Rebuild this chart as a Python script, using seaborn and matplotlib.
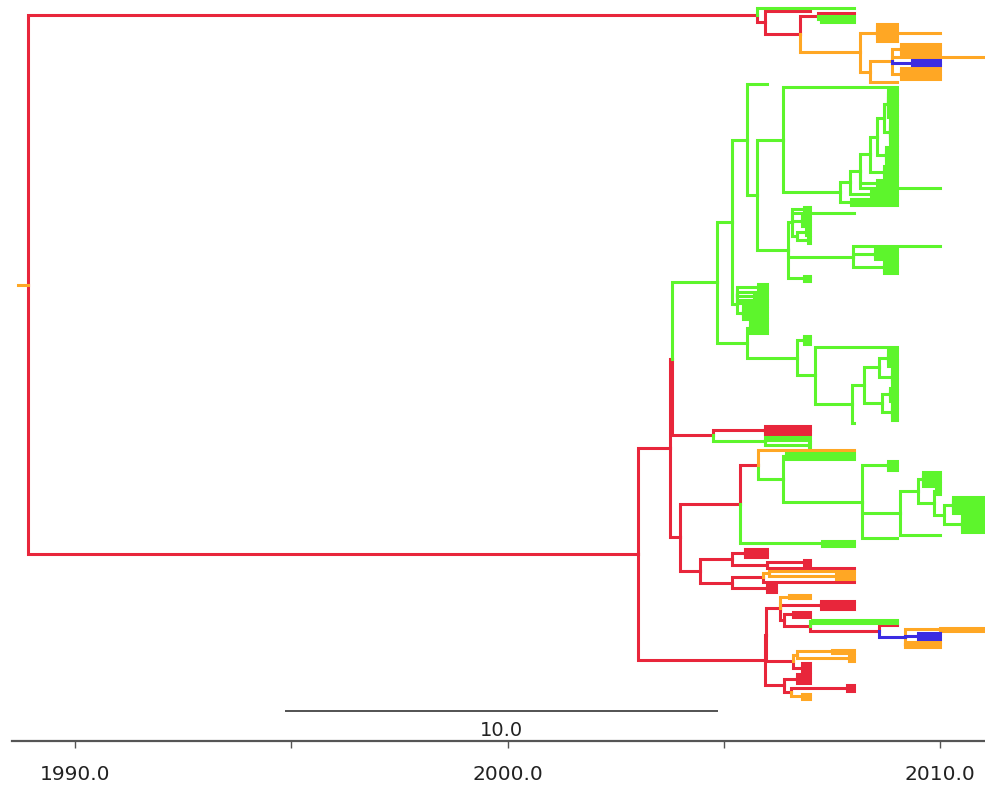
import re
import matplotlib
matplotlib.use("Agg")
import matplotlib.pyplot as plt
from matplotlib import font_manager
import pandas as pd
import seaborn as sns

# ---------------------------------------------------------------------------
# Time-scaled tree.  Node syntax:  [colour][count*]( children )@year
# colour letters: r g o b (inherited from the parent when omitted)
# "n*@year" stands for n sister tips sampled in that year.
# ---------------------------------------------------------------------------
BRANCH_COLOURS = {"r": "#E8263B", "g": "#5DF52C", "o": "#FFA724", "b": "#3B2CE2"}
COLOUR_ORDER = ["r", "g", "o", "b"]

TOP_CLADE = ("r(g@2008.0,r(@2007.0,(r(@2008.0,g(3*@2008.0)@2007.25)@2007.18,"
             "o((3*@2009.0,@2010.0,3*@2009.0)@2008.55,"
             "(((5*@2010.0)@2009.1,@2011.0,b(3*@2010.0)@2009.35,(5*@2010.0)@2009.1)@2008.9,"
             "@2009.0)@2008.38)@2008.15)@2006.76)@2005.95)@2005.77")

# green lineage -------------------------------------------------------------
LADDER_5 = "((11*@2009.0)@2008.8,(10*@2009.0)@2008.85)@2008.7"
LADDER_4 = f"({LADDER_5},(7*@2009.0)@2008.75)@2008.55"
LADDER_3 = f"({LADDER_4},(5*@2009.0)@2008.7)@2008.38"
LADDER_2 = f"({LADDER_3},(3*@2009.0)@2008.55,@2010.0)@2008.15"
LADDER_1 = f"({LADDER_2},(3*@2009.0)@2008.4)@2007.92"
LADDER_0 = f"({LADDER_1},(3*@2009.0)@2007.95)@2007.69"
SUB_A = f"(@2009.0,{LADDER_0})@2006.37"

SUB_B1 = ("((2*@2007.0)@2006.85,@2008.0,(5*@2007.0)@2006.8,"
          "((3*@2007.0)@2006.9,(3*@2007.0)@2006.95)@2006.7)@2006.58")
SUB_B2 = "(@2010.0,(5*@2009.0)@2008.5,(5*@2009.0)@2008.7)@2007.99"
SUB_B3 = "(3*@2007.0)@2006.85"
SUB_B = f"({SUB_B1},{SUB_B2},{SUB_B3})@2006.49"

SHORT_1 = "((3*@2006.0)@2005.8,@2006.0,(2*@2006.0)@2005.7,@2006.0,@2006.0)@2005.3"
SHORT_2A = "(6*@2006.0)@2005.45"
SHORT_2B = "(5*@2006.0)@2005.6"

SUB_C4 = "((7*@2009.0)@2008.8,(7*@2009.0)@2008.9)@2008.6"
SUB_C5 = "((6*@2009.0)@2008.85,(7*@2009.0)@2008.9)@2008.65"
SUB_C = (f"((4*@2007.0)@2006.85,(@2009.0,(({SUB_C4},{SUB_C5})@2008.25,"
         f"@2008.0)@2007.97)@2007.11)@2006.69")

GREEN_UPPER = (f"((@2006.0,({SUB_A},{SUB_B})@2005.77)@2005.54,"
               f"({SHORT_1},{SHORT_2A})@2005.3)@2005.2")
GREEN_LOWER = f"({SHORT_2B},{SUB_C})@2005.54"
GREEN_CLADE = f"g({GREEN_UPPER},{GREEN_LOWER})@2004.84"

# red lineages --------------------------------------------------------------
SMALL_RED = "r(r(4*@2007.0)@2005.95,g(2*@2007.0,(3*@2007.0)@2006.97)@2005.95)@2004.75"

MIXED_E4 = ("(((6*@2010.0)@2009.6,((3*@2010.0)@2009.9,"
            "((7*@2011.0)@2010.3,(7*@2011.0)@2010.5)@2010.1)@2009.85)@2009.5,"
            "@2010.0)@2009.08")
MIXED_E3 = f"((4*@2009.0)@2008.8,{MIXED_E4},@2009.0)@2008.2"
MIXED_E1 = f"r(o@2008.0,g((3*@2008.0)@2006.45,{MIXED_E3})@2006.37)@2005.8"
MIXED_E = f"r({MIXED_E1},g(3*@2008.0)@2007.27)@2005.38"

RED_F = ("r(r((4*@2006.0)@2005.5,((3*@2007.0)@2006.85,@2008.0)@2006.0)@2005.2,"
         "r(r(o(@2008.0,(3*@2008.0)@2007.6)@2006.05,r@2008.0)@2005.9,"
         "(4*@2006.2)@2006.0)@2005.2)@2004.45")

RED_H1D = ("r(r@2009.0,b(o(2*@2011.0)@2010.0,b(3*@2010.0)@2009.5,"
           "o(3*@2010.0)@2009.2)@2009.2)@2008.6")
RED_H1 = (f"r(o(2*@2007.0)@2006.5,r(4*@2008.0)@2007.25,r((3*@2007.0)@2006.6,"
          f"r(g(2*@2009.0)@2007.05,{RED_H1D})@2007.0)@2006.4)@2006.3")
RED_H2 = "r(o((2*@2008.0)@2007.5,(3*@2008.0)@2007.9)@2006.7,r(4*@2007.0)@2006.8)@2006.6"
RED_H3 = ("r(r(4*@2007.0)@2006.7,r(r(3*@2008.0)@2007.85,"
          "o(3*@2007.0)@2006.8)@2006.55)@2006.4")
RED_H = f"r(r({RED_H1},{RED_H2})@2005.97,{RED_H3})@2005.95"

NODE_C = f"r({GREEN_CLADE},{SMALL_RED})@2003.8"
NODE_D = f"r({MIXED_E},{RED_F})@2003.99"
NODE_B = f"r({NODE_C},{NODE_D})@2003.75"
NODE_A = f"r({NODE_B},{RED_H})@2003.02"
TREE = f"o({TOP_CLADE},{NODE_A})@1988.91"
ROOT_ORIGIN = 1988.68

AXIS_TICKS = [1990.0, 2000.0, 2010.0]
AXIS_MINOR = [1995.0, 2005.0]
SCALE_BAR = (1994.86, 10.0)


def parse(text):
    pos = 0

    def node(inherited):
        nonlocal pos
        colour = inherited
        if text[pos] in "rgob":
            colour = text[pos]
            pos += 1
        count = 1
        m = re.match(r"(\d+)\*", text[pos:])
        if m:
            count = int(m.group(1))
            pos += m.end()
        children = []
        if text[pos] == "(":
            pos += 1
            while True:
                children.extend(node(colour))
                if text[pos] == ",":
                    pos += 1
                    continue
                pos += 1
                break
        pos += 1  # '@'
        m = re.match(r"[\d.]+", text[pos:])
        t = float(m.group())
        pos += m.end()
        return [{"t": t, "c": colour, "ch": children if i == 0 else []}
                for i in range(count)]

    return node("r")[0]


root = parse(TREE)

# tips get consecutive rows; inner nodes sit midway between first and last child
counter = [0]


def layout(n):
    if not n["ch"]:
        n["y"] = float(counter[0])
        counter[0] += 1
    else:
        for ch in n["ch"]:
            layout(ch)
        n["y"] = (n["ch"][0]["y"] + n["ch"][-1]["y"]) / 2


layout(root)
n_tips = counter[0]

rows = []
seg = [0]


def collect(n):
    for ch in n["ch"]:
        pts = [(n["t"], n["y"]), (n["t"], ch["y"]), (ch["t"], ch["y"])]
        for k, (x, y) in enumerate(pts):
            rows.append({"seg": seg[0], "k": k, "x": x, "y": y, "colour": ch["c"]})
        seg[0] += 1
        collect(ch)


collect(root)
for k, x in enumerate([ROOT_ORIGIN, root["t"]]):
    rows.append({"seg": seg[0], "k": k, "x": x, "y": root["y"], "colour": root["c"]})
df = pd.DataFrame(rows)

# ---------------------------------------------------------------------------
sns.set_style("white")
installed = {f.name for f in font_manager.fontManager.ttflist}
narrow = [n for n in ["Liberation Sans Narrow", "DejaVu Sans Condensed"] if n in installed]
plt.rcParams["font.family"] = narrow + ["DejaVu Sans"]
label_size = 17 if narrow else 14.5

W, H = 985, 789
fig = plt.figure(figsize=(W / 100, H / 100), dpi=100)
ax = fig.add_axes([12 / W, 48 / H, 973 / W, 741 / H])

px_per_tip = 691 / (n_tips - 1)
ax.set_xlim(1990 + (12 - 75) / 43.25, 1990 + (985 - 75) / 43.25)
ax.set_ylim((741 - 8) / px_per_tip, -8 / px_per_tip)

sns.lineplot(data=df, x="x", y="y", units="seg", estimator=None, sort=False,
             hue="colour", hue_order=COLOUR_ORDER, palette=BRANCH_COLOURS,
             legend=False, linewidth=2.2, solid_capstyle="projecting",
             solid_joinstyle="miter", ax=ax)

# scale bar
bar_y = (711 - 8) / px_per_tip
ax.plot([SCALE_BAR[0], SCALE_BAR[0] + SCALE_BAR[1]], [bar_y, bar_y],
        color="#444444", lw=1.3, solid_capstyle="butt")
ax.text(SCALE_BAR[0] + SCALE_BAR[1] / 2, (730 - 8) / px_per_tip,
        f"{SCALE_BAR[1]:.1f}", ha="center", va="center", fontsize=label_size - 0.5,
        color="#222222")

for side in ["top", "right", "left"]:
    ax.spines[side].set_visible(False)
ax.spines["bottom"].set_color("#555555")
ax.spines["bottom"].set_linewidth(1.6)
ax.set_xticks(AXIS_TICKS)
ax.set_xticklabels([f"{t:.1f}" for t in AXIS_TICKS])
ax.set_xticks(AXIS_MINOR, minor=True)
ax.tick_params(axis="x", which="both", direction="out", length=5, width=1,
               color="#555555", bottom=True, labelsize=label_size, pad=12,
               labelcolor="#222222")
ax.set_yticks([])
ax.set_xlabel("")
ax.set_ylabel("")
ax.patch.set_alpha(0)

fig.savefig("out.png", dpi=100)
